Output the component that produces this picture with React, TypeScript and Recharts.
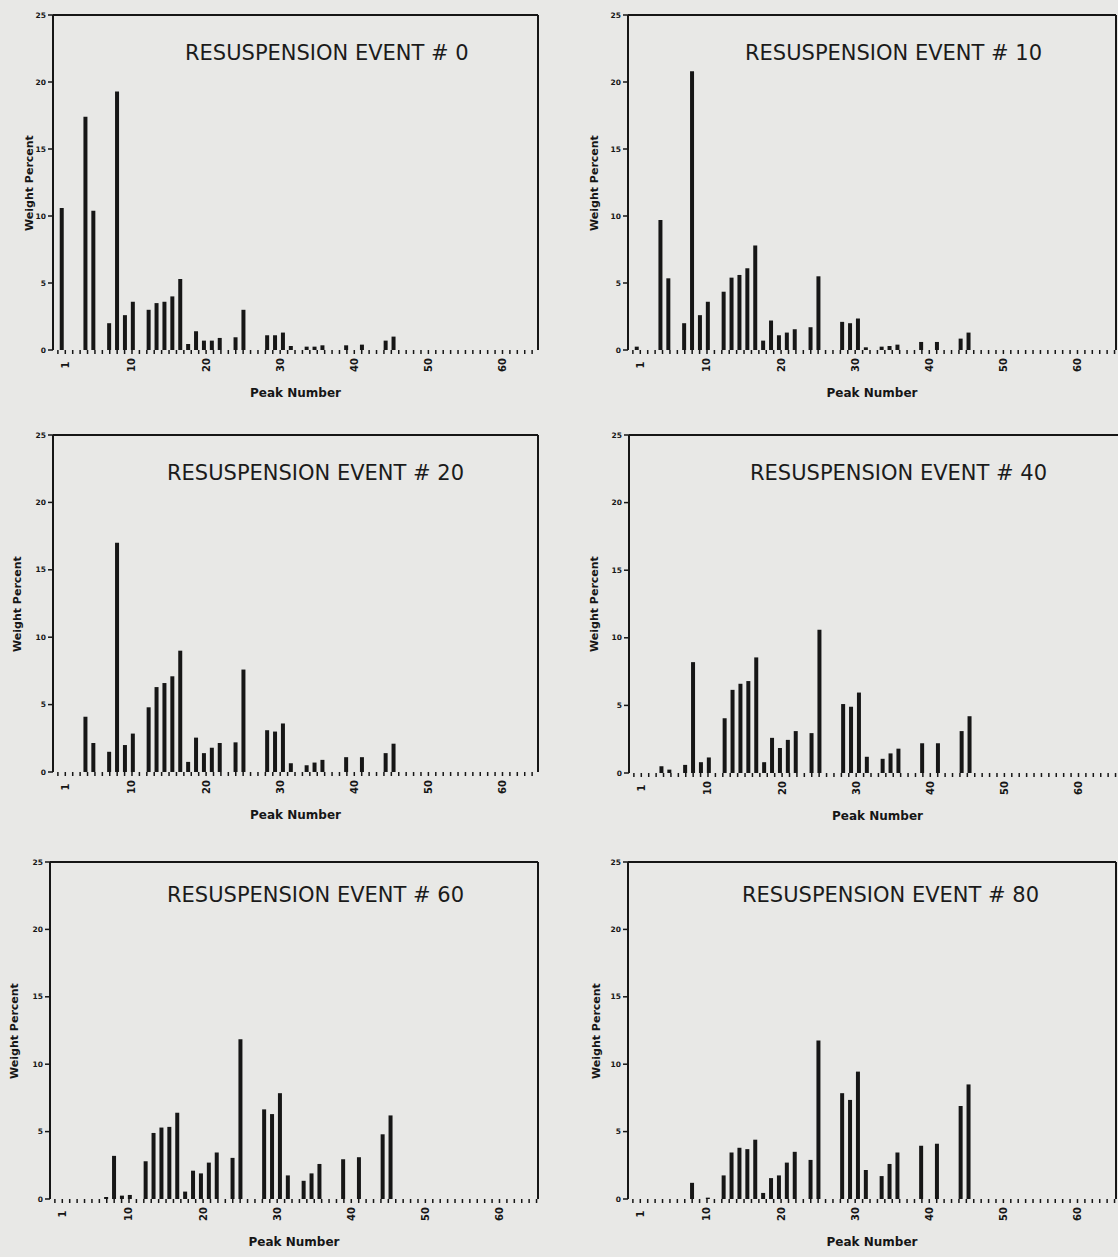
import React from 'react';
import { Bar, BarChart, ReferenceLine, XAxis, YAxis } from 'recharts';

// peak numbers along the x axis (bars are drawn only where a value is > 0)
const peakNumbers = [
  1, 2, 3, 4, 5, 6, 7, 8, 9, 10, 11, 12, 13, 14, 15, 16, 17, 18, 19, 20, 21, 22,
  23, 24, 25, 26, 27, 28, 29, 30, 31, 32, 33, 34, 35, 36, 37, 38, 39, 40, 41, 42, 43,
];

// weight percent per peak, one list per resuspension event
const event0 = [
  10.6, 0, 0, 17.4, 10.4, 0, 2.0, 19.3, 2.6, 3.6, 0, 3.0, 3.5, 3.6, 4.0, 5.3, 0.45, 1.4, 0.7, 0.7, 0.9, 0,
  0.95, 3.0, 0, 0, 1.1, 1.1, 1.3, 0.3, 0, 0.25, 0.25, 0.35, 0, 0, 0.35, 0, 0.4, 0, 0, 0.7, 1.0,
];
const event10 = [
  0.25, 0, 0, 9.7, 5.35, 0, 2.0, 20.8, 2.6, 3.6, 0, 4.35, 5.4, 5.6, 6.1, 7.8, 0.7, 2.2, 1.1, 1.3, 1.55, 0,
  1.7, 5.5, 0, 0, 2.1, 2.0, 2.35, 0.2, 0, 0.25, 0.3, 0.4, 0, 0, 0.6, 0, 0.6, 0, 0, 0.85, 1.3,
];
const event20 = [
  0, 0, 0, 4.1, 2.15, 0, 1.5, 17.0, 2.0, 2.85, 0, 4.8, 6.3, 6.6, 7.1, 9.0, 0.75, 2.55, 1.4, 1.8, 2.15, 0,
  2.2, 7.6, 0, 0, 3.1, 3.0, 3.6, 0.65, 0, 0.5, 0.7, 0.9, 0, 0, 1.1, 0, 1.1, 0, 0, 1.4, 2.1,
];
const event40 = [
  0, 0, 0, 0.5, 0.25, 0, 0.6, 8.2, 0.8, 1.15, 0, 4.05, 6.15, 6.6, 6.8, 8.55, 0.8, 2.6, 1.85, 2.45, 3.1, 0,
  2.95, 10.6, 0, 0, 5.1, 4.9, 5.95, 1.2, 0, 1.05, 1.45, 1.8, 0, 0, 2.2, 0, 2.2, 0, 0, 3.1, 4.2,
];
const event60 = [
  0, 0, 0, 0, 0, 0, 0.15, 3.2, 0.25, 0.3, 0, 2.8, 4.9, 5.3, 5.35, 6.4, 0.55, 2.1, 1.9, 2.7, 3.45, 0,
  3.05, 11.85, 0, 0, 6.65, 6.3, 7.85, 1.75, 0, 1.35, 1.9, 2.6, 0, 0, 2.95, 0, 3.1, 0, 0, 4.8, 6.2,
];
const event80 = [
  0, 0, 0, 0, 0, 0, 0, 1.2, 0, 0.1, 0, 1.75, 3.45, 3.8, 3.7, 4.4, 0.45, 1.55, 1.75, 2.7, 3.5, 0,
  2.9, 11.75, 0, 0, 7.85, 7.35, 9.45, 2.15, 0, 1.7, 2.6, 3.45, 0, 0, 3.95, 0, 4.1, 0, 0, 6.9, 8.5,
];

const yTicks = [0, 5, 10, 15, 20, 25];
const xTickLabels = [1, 10, 20, 30, 40, 50, 60];
const xMinorTicks = Array.from({ length: 67 }, (_, i) => i);

const INK = '#161616';
const FONT = '"DejaVu Sans", sans-serif';
const PEAK_PX = 7.9; // spacing of the bars
const LABEL_PX = 7.41; // spacing of the axis ticks

interface PanelProps {
  title: string;
  values: number[];
  left: number; // plot area, page coordinates
  top: number;
  right: number;
  bottom: number;
  titleX: number;
  titleY: number;
  yLabelOffset: number;
}

const PeakTick = (props: any) => {
  const { x, y, payload } = props;
  if (!xTickLabels.includes(payload.value)) return <g />;
  const ty = y + 9;
  return (
    <text
      x={x}
      y={ty}
      transform={`rotate(-90, ${x}, ${ty})`}
      textAnchor="middle"
      dominantBaseline="central"
      fontSize={10}
      fontWeight={700}
      fontFamily={FONT}
      fill={INK}
    >
      {payload.value}
    </text>
  );
};

const Panel: React.FC<PanelProps> = ({ title, values, left, top, right, bottom, titleX, titleY, yLabelOffset }) => {
  const data = peakNumbers.map((p, i) => ({ peak: p, value: values[i] }));
  const plotW = right - left;
  const plotH = bottom - top;
  const barMax = -0.1 + plotW / PEAK_PX;
  const labMin = -0.66;
  const labMax = labMin + plotW / LABEL_PX;

  return (
    <>
      <div style={{ position: 'absolute', left: left - 53, top: top - 15 }}>
        <BarChart
          width={plotW + 53 + 4}
          height={plotH + 15 + 40}
          data={data}
          margin={{ top: 15, right: 4, left: 13, bottom: 0 }}
        >
          <XAxis
            xAxisId="bars"
            dataKey="peak"
            type="number"
            domain={[-0.1, barMax]}
            allowDataOverflow
            tick={false}
            tickLine={false}
            height={0}
            axisLine={{ stroke: INK, strokeWidth: 2 }}
          />
          <XAxis
            xAxisId="lab"
            dataKey="peak"
            type="number"
            domain={[labMin, labMax]}
            allowDataOverflow
            ticks={xMinorTicks.filter((t) => t >= labMin && t <= labMax)}
            interval={0}
            tickSize={4}
            tickLine={{ stroke: INK, strokeWidth: 1.5 }}
            axisLine={false}
            tick={<PeakTick />}
            height={40}
          />
          <YAxis
            domain={[0, 25]}
            ticks={yTicks}
            width={40}
            tickSize={5}
            tickMargin={2}
            axisLine={{ stroke: INK, strokeWidth: 2 }}
            tickLine={{ stroke: INK, strokeWidth: 1.5 }}
            tick={{ fontSize: 7.5, fontWeight: 700, fontFamily: FONT, fill: INK }}
          />
          <ReferenceLine xAxisId="bars" y={25} stroke={INK} strokeWidth={2} />
          <ReferenceLine xAxisId="bars" x={barMax} stroke={INK} strokeWidth={2} />
          <Bar xAxisId="bars" dataKey="value" fill={INK} barSize={4} isAnimationActive={false} />
        </BarChart>
      </div>
      <div
        style={{
          position: 'absolute',
          left: titleX,
          top: titleY - 13,
          fontFamily: FONT,
          fontSize: 21,
          color: '#1b1b1b',
          whiteSpace: 'nowrap',
          lineHeight: '26px',
        }}
      >
        {title}
      </div>
      <div
        style={{
          position: 'absolute',
          left: left,
          width: plotW,
          top: bottom + 35,
          textAlign: 'center',
          fontFamily: FONT,
          fontSize: 12,
          fontWeight: 700,
          color: INK,
          lineHeight: '16px',
        }}
      >
        Peak Number
      </div>
      <div
        style={{
          position: 'absolute',
          left: left - yLabelOffset - 80,
          width: 160,
          top: top + plotH / 2 - 8,
          textAlign: 'center',
          transform: 'rotate(-90deg)',
          fontFamily: FONT,
          fontSize: 11,
          fontWeight: 700,
          color: INK,
          lineHeight: '16px',
        }}
      >
        Weight Percent
      </div>
    </>
  );
};

export default function App() {
  return (
    <div
      style={{
        position: 'absolute',
        left: 0,
        top: 0,
        width: 1118,
        height: 1257,
        overflow: 'hidden',
        background: '#e8e8e6',
      }}
    >
      <Panel title="RESUSPENSION EVENT # 0" values={event0} left={53} top={15} right={538} bottom={350} titleX={185} titleY={53} yLabelOffset={23} />
      <Panel title="RESUSPENSION EVENT # 10" values={event10} left={628} top={15} right={1116} bottom={350} titleX={745} titleY={53} yLabelOffset={33} />
      <Panel title="RESUSPENSION EVENT # 20" values={event20} left={53} top={435} right={538} bottom={772} titleX={167} titleY={473} yLabelOffset={35} />
      <Panel title="RESUSPENSION EVENT # 40" values={event40} left={629} top={435} right={1126} bottom={773} titleX={750} titleY={473} yLabelOffset={34} />
      <Panel title="RESUSPENSION EVENT # 60" values={event60} left={50} top={862} right={538} bottom={1199} titleX={167} titleY={895} yLabelOffset={35} />
      <Panel title="RESUSPENSION EVENT # 80" values={event80} left={628} top={862} right={1116} bottom={1199} titleX={742} titleY={895} yLabelOffset={31} />
    </div>
  );
}
